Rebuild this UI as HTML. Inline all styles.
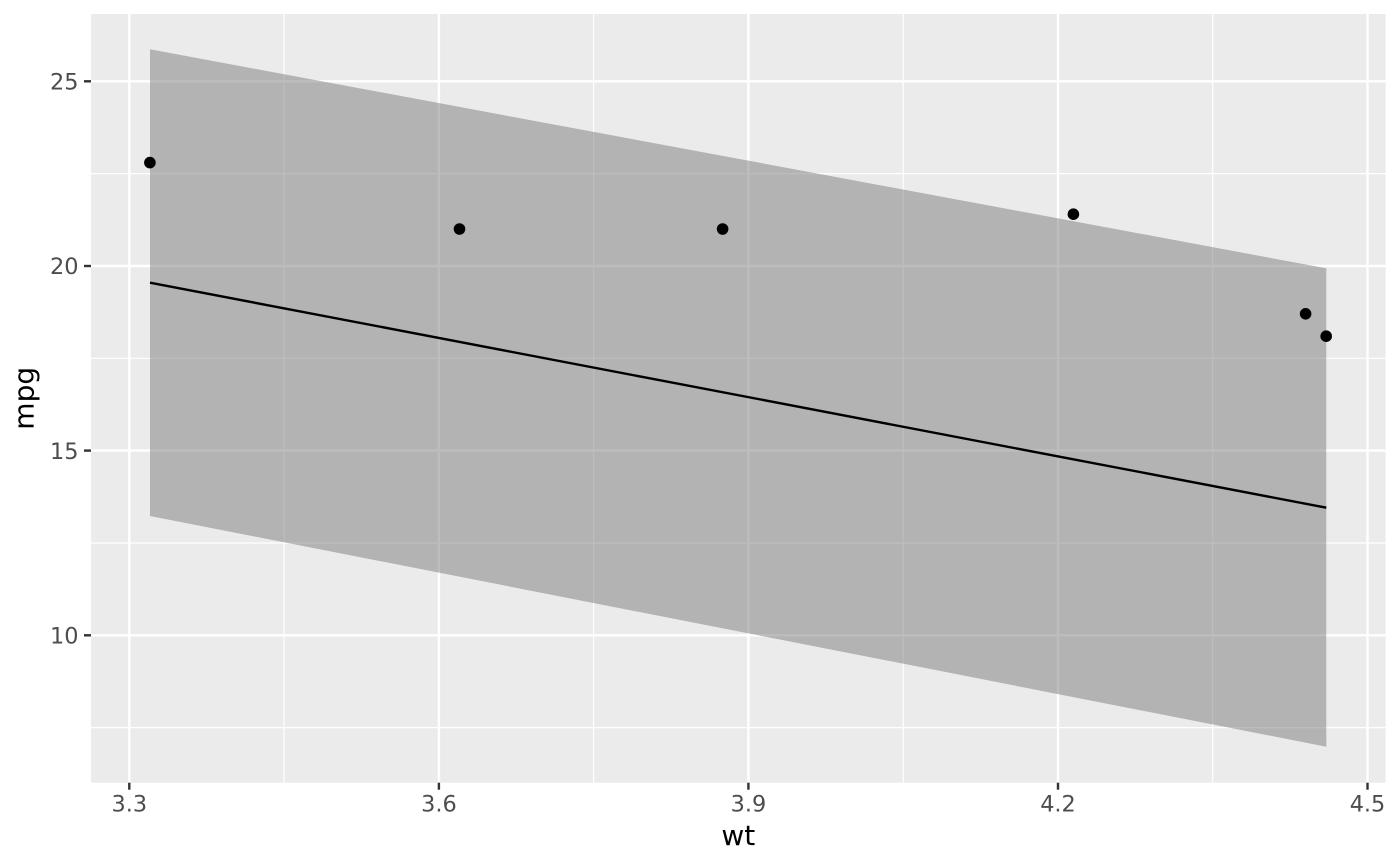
<!DOCTYPE html>
<html>
<head>
<meta charset="utf-8">
<style>
  html, body { margin: 0; padding: 0; background: #ffffff; }
  svg { display: block; }
  text { font-family: "DejaVu Sans", "Liberation Sans", sans-serif; }
</style>
</head>
<body>
<svg width="1400" height="866" viewBox="0 0 1400 866" xmlns="http://www.w3.org/2000/svg">
  <rect x="0" y="0" width="1400" height="866" fill="#ffffff"/>
  <!-- panel -->
  <rect x="91" y="14" width="1294.6" height="768.7" fill="#EBEBEB"/>
  <!-- minor gridlines -->
  <g stroke="#ffffff" stroke-width="1.2" fill="none">
    <line x1="91" x2="1385.6" y1="173.6" y2="173.6"/>
    <line x1="91" x2="1385.6" y1="358.3" y2="358.3"/>
    <line x1="91" x2="1385.6" y1="543" y2="543"/>
    <line x1="91" x2="1385.6" y1="727.6" y2="727.6"/>
    <line y1="14" y2="782.7" x1="284.1" x2="284.1"/>
    <line y1="14" y2="782.7" x1="593.6" x2="593.6"/>
    <line y1="14" y2="782.7" x1="903.2" x2="903.2"/>
    <line y1="14" y2="782.7" x1="1212.7" x2="1212.7"/>
  </g>
  <!-- major gridlines -->
  <g stroke="#ffffff" stroke-width="2.4" fill="none">
    <line x1="91" x2="1385.6" y1="81.3" y2="81.3"/>
    <line x1="91" x2="1385.6" y1="266" y2="266"/>
    <line x1="91" x2="1385.6" y1="450.6" y2="450.6"/>
    <line x1="91" x2="1385.6" y1="635.3" y2="635.3"/>
    <line y1="14" y2="782.7" x1="129.3" x2="129.3"/>
    <line y1="14" y2="782.7" x1="438.9" x2="438.9"/>
    <line y1="14" y2="782.7" x1="748.4" x2="748.4"/>
    <line y1="14" y2="782.7" x1="1058" x2="1058"/>
    <line y1="14" y2="782.7" x1="1367.5" x2="1367.5"/>
  </g>
  <!-- ribbon -->
  <polygon points="150,49.3 1326.3,268.3 1326.3,746.7 150,516" fill="#7B7B7B" fill-opacity="0.5"/>
  <!-- fit line -->
  <line x1="150" y1="282.7" x2="1326.3" y2="507.7" stroke="#000000" stroke-width="2.4"/>
  <!-- points -->
  <g fill="#000000">
    <circle cx="149.9" cy="162.6" r="5.8"/>
    <circle cx="459.5" cy="229" r="5.8"/>
    <circle cx="722.6" cy="229" r="5.8"/>
    <circle cx="1073.4" cy="214.2" r="5.8"/>
    <circle cx="1305.6" cy="313.8" r="5.8"/>
    <circle cx="1326.2" cy="336.2" r="5.8"/>
  </g>
  <!-- y ticks -->
  <g stroke="#333333" stroke-width="2.4">
    <line x1="84" x2="91" y1="81.3" y2="81.3"/>
    <line x1="84" x2="91" y1="266" y2="266"/>
    <line x1="84" x2="91" y1="450.6" y2="450.6"/>
    <line x1="84" x2="91" y1="635.3" y2="635.3"/>
  </g>
  <g fill="#4D4D4D" font-size="22.4" text-anchor="end">
    <text x="78.5" y="89.5">25</text>
    <text x="78.5" y="274.2">20</text>
    <text x="78.5" y="458.8">15</text>
    <text x="78.5" y="643.5">10</text>
  </g>
  <!-- x ticks -->
  <g stroke="#333333" stroke-width="2.4">
    <line y1="782.7" y2="789.7" x1="129.3" x2="129.3"/>
    <line y1="782.7" y2="789.7" x1="438.9" x2="438.9"/>
    <line y1="782.7" y2="789.7" x1="748.4" x2="748.4"/>
    <line y1="782.7" y2="789.7" x1="1058" x2="1058"/>
    <line y1="782.7" y2="789.7" x1="1367.5" x2="1367.5"/>
  </g>
  <g fill="#4D4D4D" font-size="22.4" text-anchor="middle">
    <text x="129.3" y="811.6">3.3</text>
    <text x="438.9" y="811.6">3.6</text>
    <text x="748.4" y="811.6">3.9</text>
    <text x="1058" y="811.6">4.2</text>
    <text x="1367.5" y="811.6">4.5</text>
  </g>
  <!-- axis titles -->
  <text x="738.3" y="845" font-size="28" fill="#000000" text-anchor="middle">wt</text>
  <text transform="translate(33.5,398.3) rotate(-90)" font-size="28" fill="#000000" text-anchor="middle">mpg</text>
</svg>
</body>
</html>
